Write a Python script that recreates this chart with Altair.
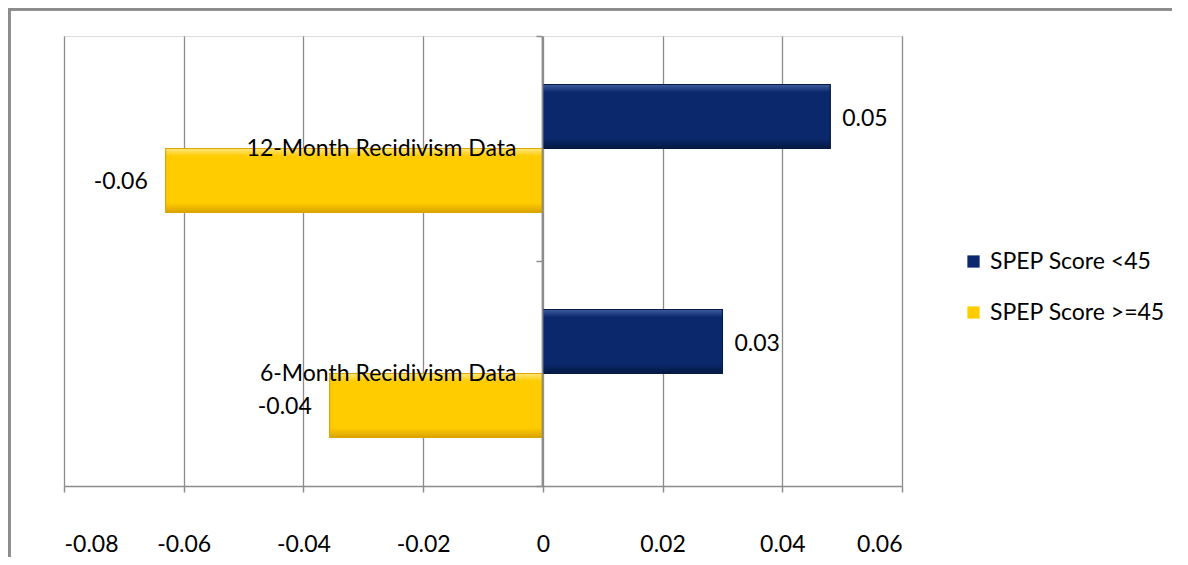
import altair as alt
import pandas as pd

categories = ["12-Month Recidivism Data", "6-Month Recidivism Data"]
series = ["SPEP Score <45", "SPEP Score >=45"]
values_lt45 = [0.048, 0.030]
values_ge45 = [-0.063, -0.0356]
colors = ["#0A286B", "#FFCC00"]
strokes = ["#061A47", "#D9A600"]
x_ticks = [-0.08, -0.06, -0.04, -0.02, 0, 0.02, 0.04, 0.06]

rows = []
for c, a, b in zip(categories, values_lt45, values_ge45):
    rows.append({"category": c, "series": series[0], "value": a, "label": f"{a:.2f}"})
    rows.append({"category": c, "series": series[1], "value": b, "label": f"{b:.2f}"})
df = pd.DataFrame(rows)

FONT = "Lato"
FS = 23
GRAY = "#8C8C8C"

x_enc = alt.X(
    "value:Q",
    scale=alt.Scale(domain=[-0.08, 0.06], nice=False, zero=False),
    axis=alt.Axis(
        values=x_ticks,
        title=None,
        grid=True,
        gridColor=GRAY,
        gridWidth=1.3,
        domainColor=GRAY,
        domainWidth=1.5,
        tickColor=GRAY,
        tickWidth=1.5,
        tickSize=6,
        labelPadding=41,
        labelFont=FONT,
        labelFontSize=FS,
        labelColor="#000000",
        labelExpr="datum.value == 0 ? '0' : replace(format(datum.value, '.2f'), '\u2212', '-')",
    ),
)
y_enc = alt.Y(
    "category:N",
    sort=categories,
    scale=alt.Scale(paddingInner=0, paddingOuter=0),
    axis=alt.Axis(
        title=None,
        offset=-478,
        tickBand="extent",
        tickSize=6,
        tickColor=GRAY,
        tickWidth=1.5,
        domainColor=GRAY,
        domainWidth=1.8,
        labelPadding=20,
        labelLimit=0,
        labelFont=FONT,
        labelFontSize=FS,
        labelColor="#000000",
        zindex=2,
    ),
)
yoff = alt.YOffset("series:N", sort=series, scale=alt.Scale(paddingInner=0, paddingOuter=0.758))

base = alt.Chart(df)

bars = base.mark_bar(strokeWidth=1.2).encode(
    x=x_enc,
    y=y_enc,
    yOffset=yoff,
    color=alt.Color(
        "series:N",
        sort=series,
        scale=alt.Scale(domain=series, range=colors),
        legend=alt.Legend(
            title=None,
            orient="none",
            legendX=898,
            legendY=214,
            symbolType="square",
            symbolSize=150,
            symbolStrokeWidth=0,
            labelFont=FONT,
            labelFontSize=FS,
            labelColor="#000000",
            labelLimit=0,
            labelOffset=5,
            rowPadding=27,
        ),
    ),
    stroke=alt.Stroke("series:N", scale=alt.Scale(domain=series, range=strokes), legend=None),
)


def bevel(light, main, dark):
    return alt.Gradient(
        gradient="linear",
        x1=0, x2=0, y1=0, y2=1,
        stops=[
            alt.GradientStop(color=light, offset=0),
            alt.GradientStop(color=main, offset=0.12),
            alt.GradientStop(color=main, offset=0.85),
            alt.GradientStop(color=dark, offset=1),
        ],
    )


navy_bevel = base.transform_filter(alt.datum.series == series[0]).mark_bar(
    color=bevel("#3F5E9E", colors[0], "#041840"), stroke=strokes[0], strokeWidth=1
).encode(x="value:Q", y=alt.Y("category:N", sort=categories), yOffset=yoff)

yellow_bevel = base.transform_filter(alt.datum.series == series[1]).mark_bar(
    color=bevel("#FFE680", colors[1], "#D9A200"), stroke=strokes[1], strokeWidth=1
).encode(x="value:Q", y=alt.Y("category:N", sort=categories), yOffset=yoff)

pos_text = base.transform_filter("datum.value >= 0").mark_text(
    align="left", baseline="middle", dx=12, dy=2, font=FONT, fontSize=FS, color="#000000"
).encode(x="value:Q", y=alt.Y("category:N", sort=categories), yOffset=yoff, text="label:N")

neg_text = base.transform_filter("datum.value < 0").mark_text(
    align="right", baseline="middle", dx=-18, dy=2, font=FONT, fontSize=FS, color="#000000"
).encode(x="value:Q", y=alt.Y("category:N", sort=categories), yOffset=yoff, text="label:N")

top_border = base.mark_rule(color=GRAY, strokeWidth=3).encode(
    x=alt.value(-56), x2=alt.value(1200), y=alt.value(-27)
)
left_border = base.mark_rule(color=GRAY, strokeWidth=3).encode(
    x=alt.value(-55), y=alt.value(-28), y2=alt.value(600)
)

chart = (
    alt.layer(bars, navy_bevel, yellow_bevel, pos_text, neg_text, top_border, left_border)
    .properties(
        width=838,
        height=450,
        autosize=alt.AutoSizeParams(type="none"),
        padding={"left": 56, "top": 28, "right": 270, "bottom": 71},
    )
    .configure_view(stroke=None)
    .configure(background="#FFFFFF")
)

chart.save("out.html", embed_options={"renderer": "svg", "actions": False})
